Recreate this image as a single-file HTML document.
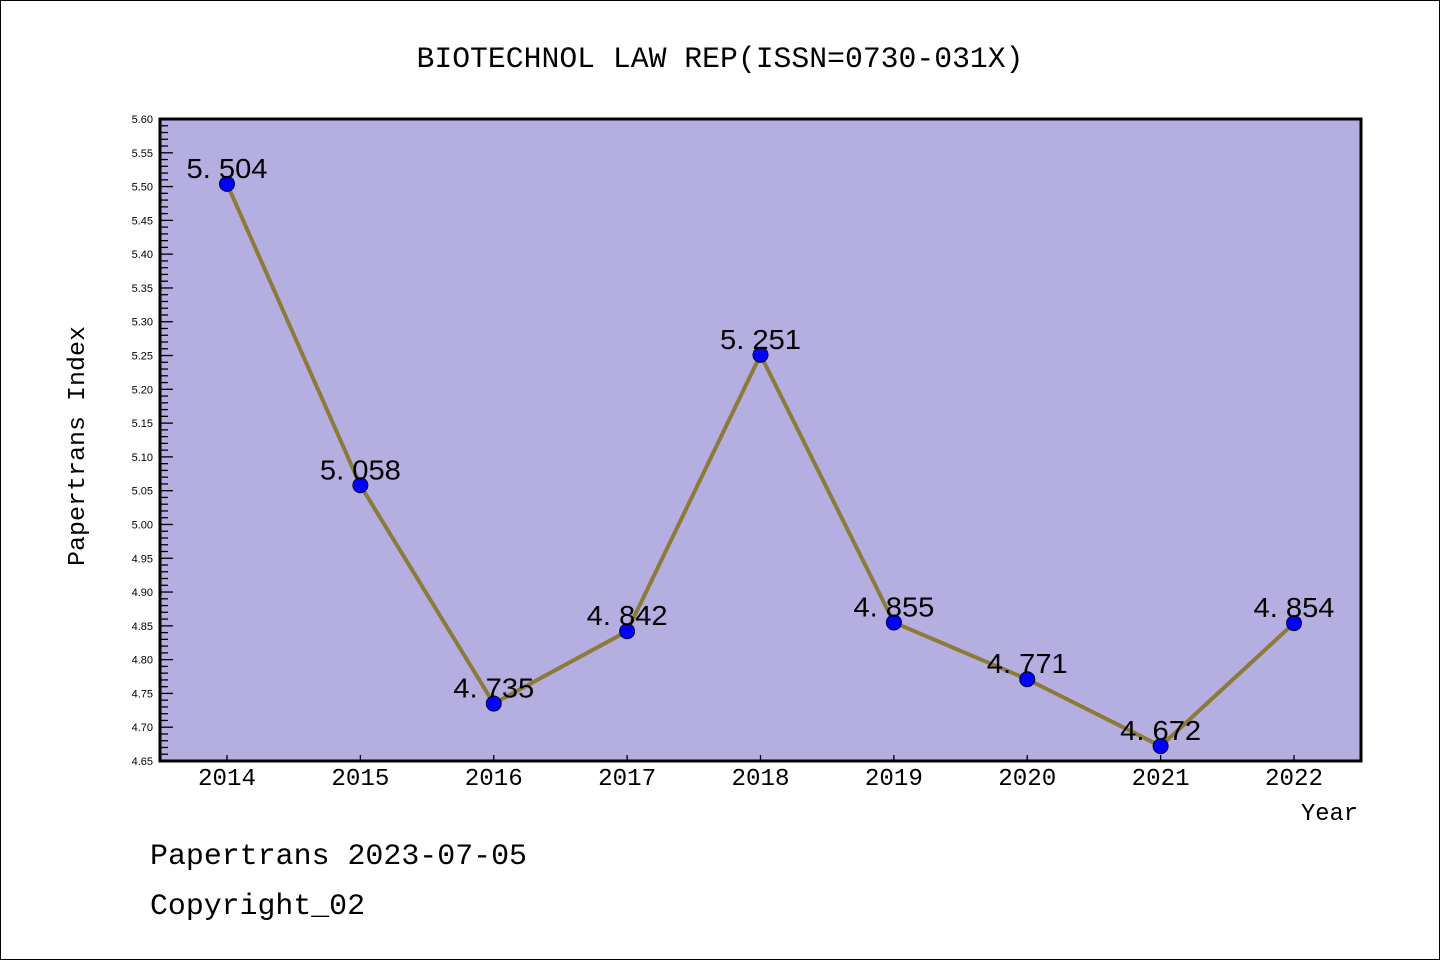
<!DOCTYPE html>
<html><head><meta charset="utf-8"><style>
html,body{margin:0;padding:0;background:#fff}
svg{display:block}
text{font-family:"Liberation Mono","WenQuanYi Zen Hei",monospace;fill:#000}
</style></head><body>
<svg id="chart" width="1440" height="960" viewBox="0 0 1440 960" xmlns="http://www.w3.org/2000/svg">
<rect x="0.5" y="0.5" width="1439" height="959" fill="#fff" stroke="#000" stroke-width="1"/>
<text x="720" y="67" font-size="30" text-anchor="middle" textLength="607" lengthAdjust="spacingAndGlyphs">BIOTECHNOL LAW REP(ISSN=0730-031X)</text>
<rect x="160" y="119" width="1201" height="642" fill="#b5aee1"/>
<g id="yaxis"></g>
<g id="xaxis"></g>
<g id="series"></g>
<rect x="160" y="119" width="1201" height="642" fill="none" stroke="#000" stroke-width="3"/>
<text transform="translate(84,446) rotate(-90)" font-size="24" text-anchor="middle" textLength="240" lengthAdjust="spacingAndGlyphs">Papertrans Index</text>
<text x="1358" y="820" font-size="24" text-anchor="end" textLength="57" lengthAdjust="spacingAndGlyphs">Year</text>
<text x="150" y="864" font-size="30" textLength="377" lengthAdjust="spacingAndGlyphs">Papertrans 2023-07-05</text>
<text x="150" y="914" font-size="30" textLength="215" lengthAdjust="spacingAndGlyphs">Copyright_02</text>
</svg>
<script>
const years = ["2014","2015","2016","2017","2018","2019","2020","2021","2022"];
const values = [5.504,5.058,4.735,4.842,5.251,4.855,4.771,4.672,4.854];
const valueLabels = ["5.504","5.058","4.735","4.842","5.251","4.855","4.771","4.672","4.854"];
const yTickLabels = ["4.65","4.70","4.75","4.80","4.85","4.90","4.95","5.00","5.05","5.10","5.15","5.20","5.25","5.30","5.35","5.40","5.45","5.50","5.55","5.60"];
const yMin = 4.65, yMax = 5.60;
const NS = "http://www.w3.org/2000/svg";
function yPos(v){ return 761 - (v - yMin) / (yMax - yMin) * 642; }
function xPos(i){ return 227 + i * (1294 - 227) / (years.length - 1); }
function mk(tag, attrs, parent){ const e = document.createElementNS(NS, tag); for (const k in attrs) e.setAttribute(k, attrs[k]); parent.appendChild(e); return e; }
const ya = document.getElementById('yaxis');
for (let k = 0; k <= Math.round((yMax - yMin) * 100); k++) {
  const v = yMin + k * 0.01;
  const y = yPos(v);
  const major = k % 5 === 0;
  const t = mk('line', {x1:160, x2:160 + (major ? 13 : 8), y1:y, y2:y, stroke:'#000', 'stroke-width':1.3}, ya);
  
  
}
yTickLabels.forEach(function(lbl){
  const tx = mk('text', {x:153, y:yPos(parseFloat(lbl)) + 4, 'font-size':11, 'text-anchor':'end', style:'font-family:"Liberation Sans",sans-serif'}, ya);
  tx.textContent = lbl;
  
  
});
const xa = document.getElementById('xaxis');
years.forEach(function(yr, i){
  const x = xPos(i);
  const t = mk('line', {x1:x, x2:x, y1:761, y2:755, stroke:'#000', 'stroke-width':1.3}, xa);
  
  
  const tx = mk('text', {x:x, y:785, 'font-size':24, 'text-anchor':'middle', textLength:58, lengthAdjust:'spacingAndGlyphs'}, xa);
  tx.textContent = yr;
  
  
});
const s = document.getElementById('series');
const pts = values.map(function(v, i){ return xPos(i) + ',' + yPos(v); }).join(' ');
const pl = mk('polyline', {points:pts, fill:'none', stroke:'#8b7b3a', 'stroke-width':4, 'stroke-linejoin':'round'}, s);


values.forEach(function(v, i){
  const c = mk('circle', {cx:xPos(i), cy:yPos(v), r:7.5, fill:'#0000ff', stroke:'#000033', 'stroke-width':1}, s);
  
  
});
values.forEach(function(v, i){
  const tx = mk('text', {x:xPos(i), y:yPos(v) - 6, 'font-size':28, 'text-anchor':'middle', textLength:81, lengthAdjust:'spacingAndGlyphs', style:'font-family:"Liberation Sans",sans-serif'}, s);
  tx.textContent = valueLabels[i].replace('.', '. ');
  
  
});
</script>
</body></html>
